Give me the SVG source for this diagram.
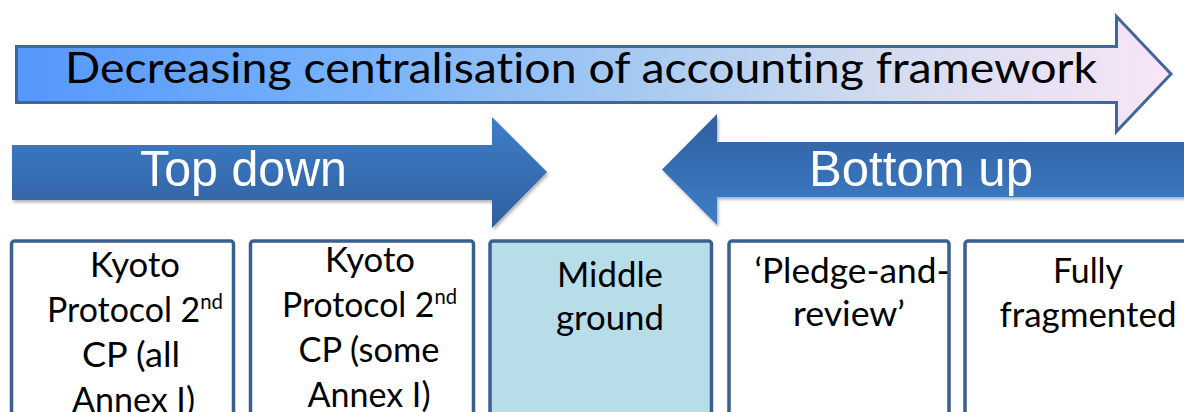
<svg xmlns="http://www.w3.org/2000/svg" width="1184" height="412" viewBox="0 0 1184 412">
  <defs>
    <linearGradient id="gradBig" x1="0" y1="0" x2="1" y2="0">
      <stop offset="0" stop-color="#5597fb"/>
      <stop offset="0.3" stop-color="#78b3fb"/>
      <stop offset="0.55" stop-color="#a9cbf0"/>
      <stop offset="0.75" stop-color="#d2dbef"/>
      <stop offset="1" stop-color="#f8e6f7"/>
    </linearGradient>
    <linearGradient id="gradDown" x1="0" y1="0" x2="0" y2="1">
      <stop offset="0" stop-color="#3e7ec9"/>
      <stop offset="1" stop-color="#305f9e"/>
    </linearGradient>
    <linearGradient id="gradUp" x1="0" y1="0" x2="0" y2="1">
      <stop offset="0" stop-color="#305f9e"/>
      <stop offset="1" stop-color="#3e7ec9"/>
    </linearGradient>
    <filter id="shadow" x="-5%" y="-20%" width="110%" height="140%">
      <feDropShadow dx="1.5" dy="2.5" stdDeviation="1.5" flood-color="#000" flood-opacity="0.3"/>
    </filter>
  </defs>
  <style>
    .box { fill: #ffffff; stroke: #3b5f8e; stroke-width: 3.5; }
    .box.hl { fill: #b7dde8; }
    .lbl { font-family: Lato, "Open Sans", sans-serif; font-size: 35px; fill: #000; text-anchor: middle; font-variant-ligatures: none; }
    .sup { font-size: 21px; }
    .band { font-family: "Liberation Sans", Arial, sans-serif; font-size: 50px; fill: #ffffff; }
    .title { font-family: Lato, "Open Sans", sans-serif; font-size: 42px; fill: #000; font-variant-ligatures: none; }
  </style>

  <rect width="1184" height="412" fill="#ffffff"/>

  <!-- overall direction arrow -->
  <g id="centralisation-arrow">
    <path d="M16.5,46.5 H1116.5 V16.5 L1171,74 L1116.5,131.5 V102.5 H16.5 Z" fill="url(#gradBig)" stroke="#40669a" stroke-width="3" stroke-linejoin="miter"/>
    <text class="title" x="65" y="83" textLength="1032" lengthAdjust="spacingAndGlyphs">Decreasing centralisation of accounting framework</text>
  </g>

  <!-- block arrows -->
  <g id="top-down">
    <path d="M12,145 H492 V117 L547,172 L492,228 V200 H12 Z" fill="url(#gradDown)" filter="url(#shadow)"/>
    <text class="band" x="140" y="186" textLength="207" lengthAdjust="spacingAndGlyphs">Top down</text>
  </g>
  <g id="bottom-up">
    <path d="M1190,142 H717 V114 L662,169.5 L717,225 V197 H1190 Z" fill="url(#gradUp)" filter="url(#shadow)"/>
    <text class="band" x="809" y="186" textLength="224" lengthAdjust="spacingAndGlyphs">Bottom up</text>
  </g>

  <!-- option boxes -->
  <g id="kyoto-all">
    <rect class="box" x="11.5" y="241" width="222" height="200" rx="3"/>
    <text class="lbl" x="135" y="277" textLength="90" lengthAdjust="spacingAndGlyphs">Kyoto</text>
    <text class="lbl" x="135" y="322" textLength="176" lengthAdjust="spacingAndGlyphs">Protocol 2<tspan class="sup" dy="-13">nd</tspan></text>
    <text class="lbl" x="131" y="367" textLength="98" lengthAdjust="spacingAndGlyphs">CP (all</text>
    <text class="lbl" x="133.5" y="412" textLength="123" lengthAdjust="spacingAndGlyphs">Annex I)</text>
  </g>
  <g id="kyoto-some">
    <rect class="box" x="250.5" y="241" width="223" height="200" rx="3"/>
    <text class="lbl" x="370" y="272" textLength="90" lengthAdjust="spacingAndGlyphs">Kyoto</text>
    <text class="lbl" x="369.5" y="317" textLength="175" lengthAdjust="spacingAndGlyphs">Protocol 2<tspan class="sup" dy="-13">nd</tspan></text>
    <text class="lbl" x="369" y="362" textLength="141" lengthAdjust="spacingAndGlyphs">CP (some</text>
    <text class="lbl" x="369" y="407" textLength="123" lengthAdjust="spacingAndGlyphs">Annex I)</text>
  </g>
  <g id="middle-ground">
    <rect class="box hl" x="490" y="241" width="221.5" height="200" rx="3"/>
    <text class="lbl" x="610" y="287" textLength="106" lengthAdjust="spacingAndGlyphs">Middle</text>
    <text class="lbl" x="610" y="330" textLength="108" lengthAdjust="spacingAndGlyphs">ground</text>
  </g>
  <g id="pledge-and-review">
    <rect class="box" x="729" y="241" width="220" height="200" rx="3"/>
    <text class="lbl" x="852" y="283" textLength="195" lengthAdjust="spacingAndGlyphs">‘Pledge-and-</text>
    <text class="lbl" x="849" y="326" textLength="112" lengthAdjust="spacingAndGlyphs">review’</text>
  </g>
  <g id="fully-fragmented">
    <rect class="box" x="965" y="241" width="226" height="200" rx="3"/>
    <text class="lbl" x="1088" y="283" textLength="70" lengthAdjust="spacingAndGlyphs">Fully</text>
    <text class="lbl" x="1088" y="327" textLength="177" lengthAdjust="spacingAndGlyphs">fragmented</text>
  </g>
</svg>
